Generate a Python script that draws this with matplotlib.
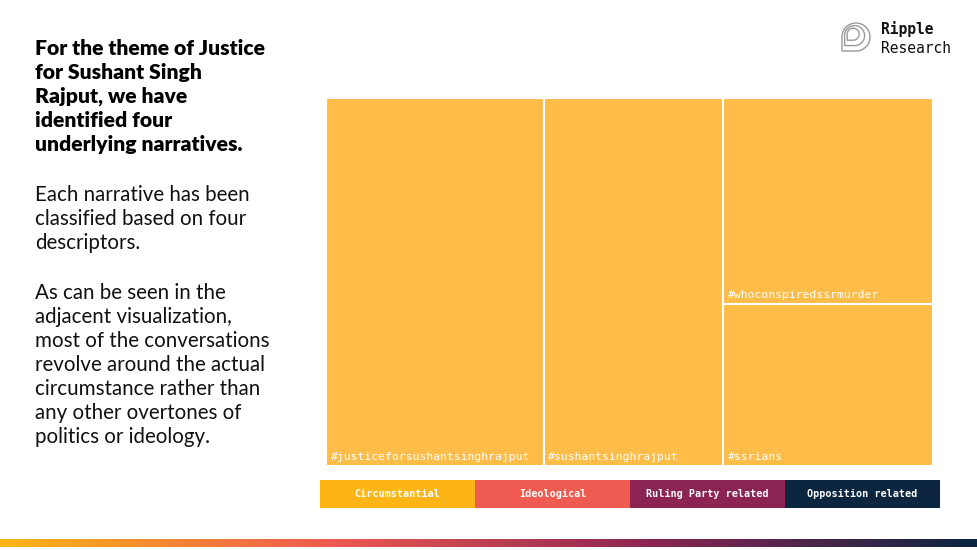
import numpy as np
import matplotlib.pyplot as plt
from matplotlib.patches import Rectangle
from matplotlib.path import Path
from matplotlib.patches import PathPatch
from matplotlib.colors import LinearSegmentedColormap

# treemap data (share of conversation)
hashtags = ['#justiceforsushantsinghrajput', '#sushantsinghrajput',
            '#whoconspiredssrmurder', '#ssrians']
shares = [35.9, 29.5, 19.4, 15.2]

legend_labels = ['Circumstantial', 'Ideological', 'Ruling Party related', 'Opposition related']
legend_colors = ['#FDB515', '#EF5B50', '#8B2453', '#0C2640']
tile_color = '#FEBC48'

heading = ['For the theme of Justice', 'for Sushant Singh', 'Rajput, we have',
           'identified four', 'underlying narratives.']
para1 = ['Each narrative has been', 'classified based on four', 'descriptors.']
para2 = ['As can be seen in the', 'adjacent visualization,', 'most of the conversations',
         'revolve around the actual', 'circumstance rather than',
         'any other overtones of', 'politics or ideology.']

W, H = 977, 550
fig = plt.figure(figsize=(W / 100, H / 100), dpi=100)
bg = fig.add_axes([0, 0, 1, 1])
bg.set_xlim(0, W)
bg.set_ylim(H, 0)
bg.axis('off')

# left text block
y = 55
for line in heading:
    bg.text(35, y, line, fontsize=15.2, fontweight='heavy', family='Lato',
            color='black', va='baseline')
    y += 24
y = 201
for line in para1:
    bg.text(35, y, line, fontsize=14.8, family='Lato', color='#111111', va='baseline')
    y += 24
y = 299
for line in para2:
    bg.text(35, y, line, fontsize=14.8, family='Lato', color='#111111', va='baseline')
    y += 24

# logo
def drop(cx, cy, r):
    # rounded shape with a sharp bottom-left corner
    t = np.linspace(np.pi, -np.pi / 2, 60)
    pts = [(cx + r * np.cos(a), cy - r * np.sin(a)) for a in t]
    pts.append((cx - r, cy + r))
    pts.append(pts[0])
    return Path(pts)

for r in (14, 10, 6):
    bg.add_patch(PathPatch(drop(856 - (14 - r) * 0.35, 37 - (14 - r) * 0.35, r),
                           facecolor='none', edgecolor='#9a9a9a', lw=1.0))
bg.text(881, 34, 'Ripple', fontsize=10.5, fontweight='bold', family='DejaVu Sans Mono',
        color='#111111', va='baseline')
bg.text(881, 53, 'Research', fontsize=10.5, family='DejaVu Sans Mono',
        color='#111111', va='baseline')

# treemap
ax = fig.add_axes([326 / W, 1 - 466 / H, (933 - 326) / W, (466 - 98) / H])
total = sum(shares)
ax.set_xlim(0, total)
ax.set_ylim(0, 1)
ax.axis('off')

dx, dy = 0.75, 0.017
x0 = 0
for name, v in zip(hashtags[:2], shares[:2]):
    ax.add_patch(Rectangle((x0, 0), v, 1, facecolor=tile_color, edgecolor='white', lw=1.5))
    ax.text(x0 + dx, dy, name, fontsize=8.2, family='DejaVu Sans Mono',
            color='white', va='baseline', ha='left')
    x0 += v
colw = sum(shares[2:])
y0 = 0
for name, v in zip(hashtags[:1:-1], shares[:1:-1]):
    h = v / colw
    ax.add_patch(Rectangle((x0, y0), colw, h, facecolor=tile_color, edgecolor='white', lw=1.5))
    ax.text(x0 + dx, y0 + dy, name, fontsize=8.2, family='DejaVu Sans Mono',
            color='white', va='baseline', ha='left')
    y0 += h

# legend strip
lax = fig.add_axes([320 / W, 1 - 508 / H, (940 - 320) / W, 28 / H])
lax.set_xlim(0, len(legend_labels))
lax.set_ylim(0, 1)
lax.axis('off')
for i, (lab, c) in enumerate(zip(legend_labels, legend_colors)):
    lax.add_patch(Rectangle((i, 0), 1, 1, facecolor=c, edgecolor='none'))
    lax.text(i + 0.5, 0.5, lab, fontsize=7.3, fontweight='bold', family='DejaVu Sans Mono',
             color='white', ha='center', va='center')

# bottom gradient bar
gax = fig.add_axes([0, 1 - 547 / H, 1, 8 / H])
cmap = LinearSegmentedColormap.from_list('ripple', legend_colors)
gax.imshow(np.linspace(0, 1, 400)[None, :], aspect='auto', cmap=cmap)
gax.axis('off')

fig.savefig('out.png', dpi=100)
